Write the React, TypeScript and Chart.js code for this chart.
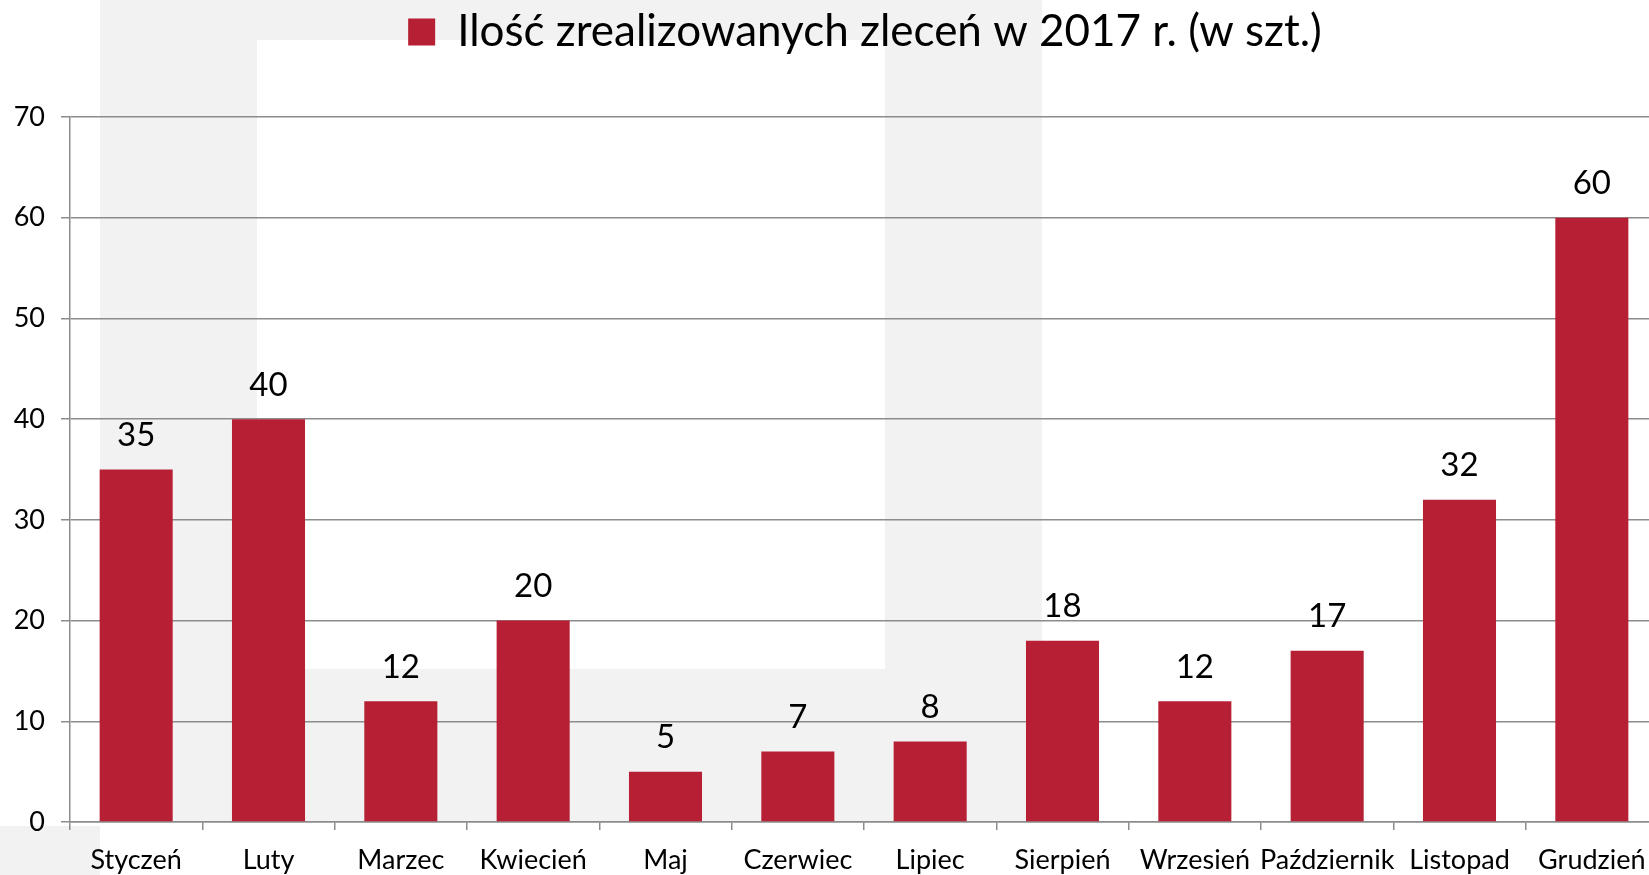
import React, { useEffect, useRef } from "react";
import { Chart, registerables } from "chart.js";

Chart.register(...registerables);

const categories = [
  "Styczeń", "Luty", "Marzec", "Kwiecień", "Maj", "Czerwiec",
  "Lipiec", "Sierpień", "Wrzesień", "Październik", "Listopad", "Grudzień",
];
const orders2017 = [35, 40, 12, 20, 5, 7, 8, 18, 12, 17, 32, 60];
const seriesLabel = "Ilość zrealizowanych zleceń w 2017 r. (w szt.)";
const yMin = 0;
const yMax = 70;
const yStep = 10;

const BAR_COLOR = "#b71f34";
const GRID_COLOR = "#8c8c8c";
const FONT = "Lato, 'Noto Sans', sans-serif";

const valueLabels = {
  id: "valueLabels",
  afterDatasetsDraw(chart: any) {
    const ctx = chart.ctx;
    const meta = chart.getDatasetMeta(0);
    ctx.save();
    ctx.font = `33px ${FONT}`;
    ctx.fillStyle = "#000";
    ctx.textAlign = "center";
    ctx.textBaseline = "middle";
    meta.data.forEach((bar: any, i: number) => {
      const v = chart.data.datasets[0].data[i];
      ctx.fillText(String(v), bar.x, bar.y - 34);
    });
    ctx.restore();
  },
};

// Shift the legend horizontally so it sits where the original one does
const legendShift = {
  id: "legendShift",
  afterLayout(chart: any) {
    const lg = chart.legend;
    if (lg) {
      lg.left += 36;
      lg.right += 36;
    }
  },
};

export default function App() {
  const ref = useRef<HTMLCanvasElement | null>(null);

  useEffect(() => {
    const canvas = ref.current!;
    const chart = new Chart(canvas, {
      type: "bar",
      data: {
        labels: categories,
        datasets: [
          {
            label: seriesLabel,
            data: orders2017,
            backgroundColor: BAR_COLOR,
            borderWidth: 0,
            barPercentage: 0.552,
            categoryPercentage: 1,
          },
        ],
      },
      options: {
        responsive: false,
        animation: false,
        devicePixelRatio: 1,
        layout: { padding: { left: 0, right: 84, top: 0, bottom: 0 } },
        plugins: {
          legend: {
            position: "top",
            align: "center",
            labels: {
              boxWidth: 27,
              boxHeight: 27,
              padding: 10,
              color: "#000",
              font: { family: FONT, size: 44 },
            },
          },
          tooltip: { enabled: false },
        },
        scales: {
          x: {
            type: "category",
            position: "bottom",
            offset: true,
            grid: {
              display: true,
              offset: true,
              drawOnChartArea: false,
              drawTicks: true,
              tickLength: 8,
              color: GRID_COLOR,
              lineWidth: 1.5,
            },
            border: { display: true, color: GRID_COLOR, width: 1.5 },
            ticks: {
              color: "#000",
              font: { family: FONT, size: 27 },
              padding: 14,
              maxRotation: 0,
              autoSkip: false,
            },
            afterFit(scale: any) {
              scale.height = 53;
            },
          },
          spacer: {
            type: "category",
            position: "top",
            display: true,
            grid: { display: false, drawTicks: false },
            border: { display: false },
            ticks: { display: false },
            afterFit(scale: any) {
              scale.height = 53;
            },
          },
          y: {
            type: "linear",
            min: yMin,
            max: yMax,
            ticks: {
              stepSize: yStep,
              color: "#000",
              font: { family: FONT, size: 27 },
              padding: 16,
            },
            grid: {
              color: GRID_COLOR,
              lineWidth: 1.5,
              tickLength: 9,
              drawTicks: true,
            },
            border: { display: true, color: GRID_COLOR, width: 1.5 },
            afterFit(scale: any) {
              scale.width = 70;
            },
          },
        },
      },
      plugins: [valueLabels, legendShift],
    } as any);
    return () => chart.destroy();
  }, []);

  const gray = "#f2f2f2";
  return (
    <div
      style={{
        position: "fixed",
        left: 0,
        top: 0,
        width: 1649,
        height: 875,
        overflow: "hidden",
        background: "#fff",
      }}
    >
      <div style={{ position: "absolute", left: 100, top: 0, width: 942, height: 822, background: gray }} />
      <div style={{ position: "absolute", left: 257, top: 40, width: 628, height: 629, background: "#fff" }} />
      <div style={{ position: "absolute", left: 0, top: 826, width: 100, height: 49, background: gray }} />
      <canvas
        ref={ref}
        width={1742}
        height={875}
        style={{ position: "absolute", left: 0, top: 0, width: 1742, height: 875 }}
      />
    </div>
  );
}
